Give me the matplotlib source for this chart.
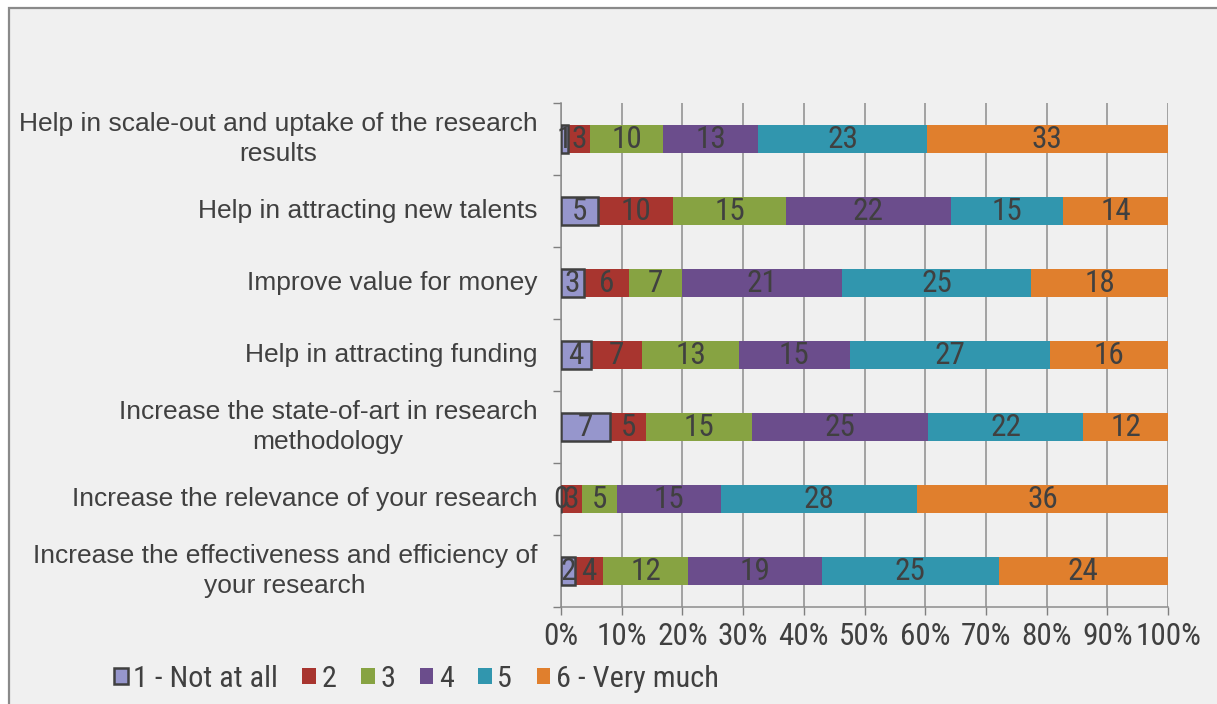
import matplotlib
matplotlib.use("Agg")
import matplotlib.pyplot as plt
from matplotlib.patches import Rectangle, Patch
import numpy as np

categories = [
    "Help in scale-out and uptake of the research\nresults",
    "Help in attracting new talents",
    "Improve value for money",
    "Help in attracting funding",
    "Increase the state-of-art in research\nmethodology",
    "Increase the relevance of your research",
    "Increase the effectiveness and efficiency of\nyour research",
]
series_names = ["1 - Not at all", "2", "3", "4", "5", "6 - Very much"]
s1 = [1, 5, 3, 4, 7, 0, 2]
s2 = [3, 10, 6, 7, 5, 3, 4]
s3 = [10, 15, 7, 13, 15, 5, 12]
s4 = [13, 22, 21, 15, 25, 15, 19]
s5 = [23, 15, 25, 27, 22, 28, 25]
s6 = [33, 14, 18, 16, 12, 36, 24]
tick_labels = ["0%", "10%", "20%", "30%", "40%", "50%", "60%", "70%", "80%", "90%", "100%"]

colors = ["#9696CC", "#A8352F", "#87A342", "#6B4D8C", "#3196AE", "#E07F2D"]

narrow = ["Roboto Condensed", "Liberation Sans"]
normal = ["Liberation Sans", "DejaVu Sans"]
txt_color = "#404040"
fs = 19
fsn = 22.5
fsl = 21.8

W, H = 1217, 704
fig = plt.figure(figsize=(W / 100, H / 100), dpi=100, facecolor="white")
fig.patches.append(Rectangle((9 / W, -0.05), 1.2, 1 - 8 / H + 0.05, transform=fig.transFigure,
                             facecolor="#F0F0F0", edgecolor="#8A8A8A", linewidth=1.6, zorder=-5))

ax = fig.add_axes([561 / W, 1 - 607 / H, (1168 - 561) / W, (607 - 103) / H])
ax.set_facecolor("none")

data = np.array([s1, s2, s3, s4, s5, s6], dtype=float)
totals = data.sum(axis=0)
pct = data / totals * 100
y = np.arange(len(categories))
left = np.zeros(len(categories))
for i in range(len(series_names)):
    ec = "#404040" if i == 0 else "none"
    lw = 1.8 if i == 0 else 0
    bars = ax.barh(y, pct[i], left=left, height=0.4, color=colors[i], edgecolor=ec,
                   linewidth=lw, zorder=3 if i else 4)
    ax.bar_label(bars, labels=[str(int(v)) for v in data[i]], label_type="center",
                 color=txt_color, fontsize=fsn, family=narrow, zorder=5)
    left += pct[i]

ax.set_xlim(0, 100)
ax.set_ylim(len(categories) - 0.5, -0.5)
ax.set_xticks(np.arange(0, 101, 10))
ax.set_xticklabels(tick_labels, family=narrow, fontsize=fsn, color=txt_color)
ax.set_yticks(y)
ax.set_yticklabels(categories, family=normal, fontsize=fs, color=txt_color,
                   multialignment="center", linespacing=1.3)
for lab in ax.get_yticklabels():
    lab.set_verticalalignment("center")
ax.set_yticks(np.arange(-0.5, len(categories), 1), minor=True)
ax.tick_params(axis="y", which="major", length=0, pad=17)
ax.tick_params(axis="y", which="minor", length=6, width=1, color="#7F7F7F", direction="out")
ax.tick_params(axis="x", which="major", length=6, width=1, color="#7F7F7F", direction="out", pad=5)
ax.grid(axis="x", color="#8C8C8C", linewidth=1.1, zorder=1)
ax.set_axisbelow(True)
for side in ["top", "right"]:
    ax.spines[side].set_visible(False)
for side in ["left", "bottom"]:
    ax.spines[side].set_color("#8C8C8C")
    ax.spines[side].set_linewidth(1.1)

handles = [Patch(facecolor=colors[i], edgecolor="#404040" if i == 0 else colors[i],
                 linewidth=1.8 if i == 0 else 0) for i in range(len(series_names))]
fig.legend(handles, series_names, loc="center left", bbox_to_anchor=(114 / W, 1 - 679 / H),
           ncol=6, frameon=False, prop={"family": narrow, "size": fsl},
           labelcolor=txt_color, handlelength=0.46, handleheight=0.46,
           handletextpad=0.18, columnspacing=0.8, borderpad=0, borderaxespad=0)

fig.savefig("out.png", dpi=100, facecolor=fig.get_facecolor())
